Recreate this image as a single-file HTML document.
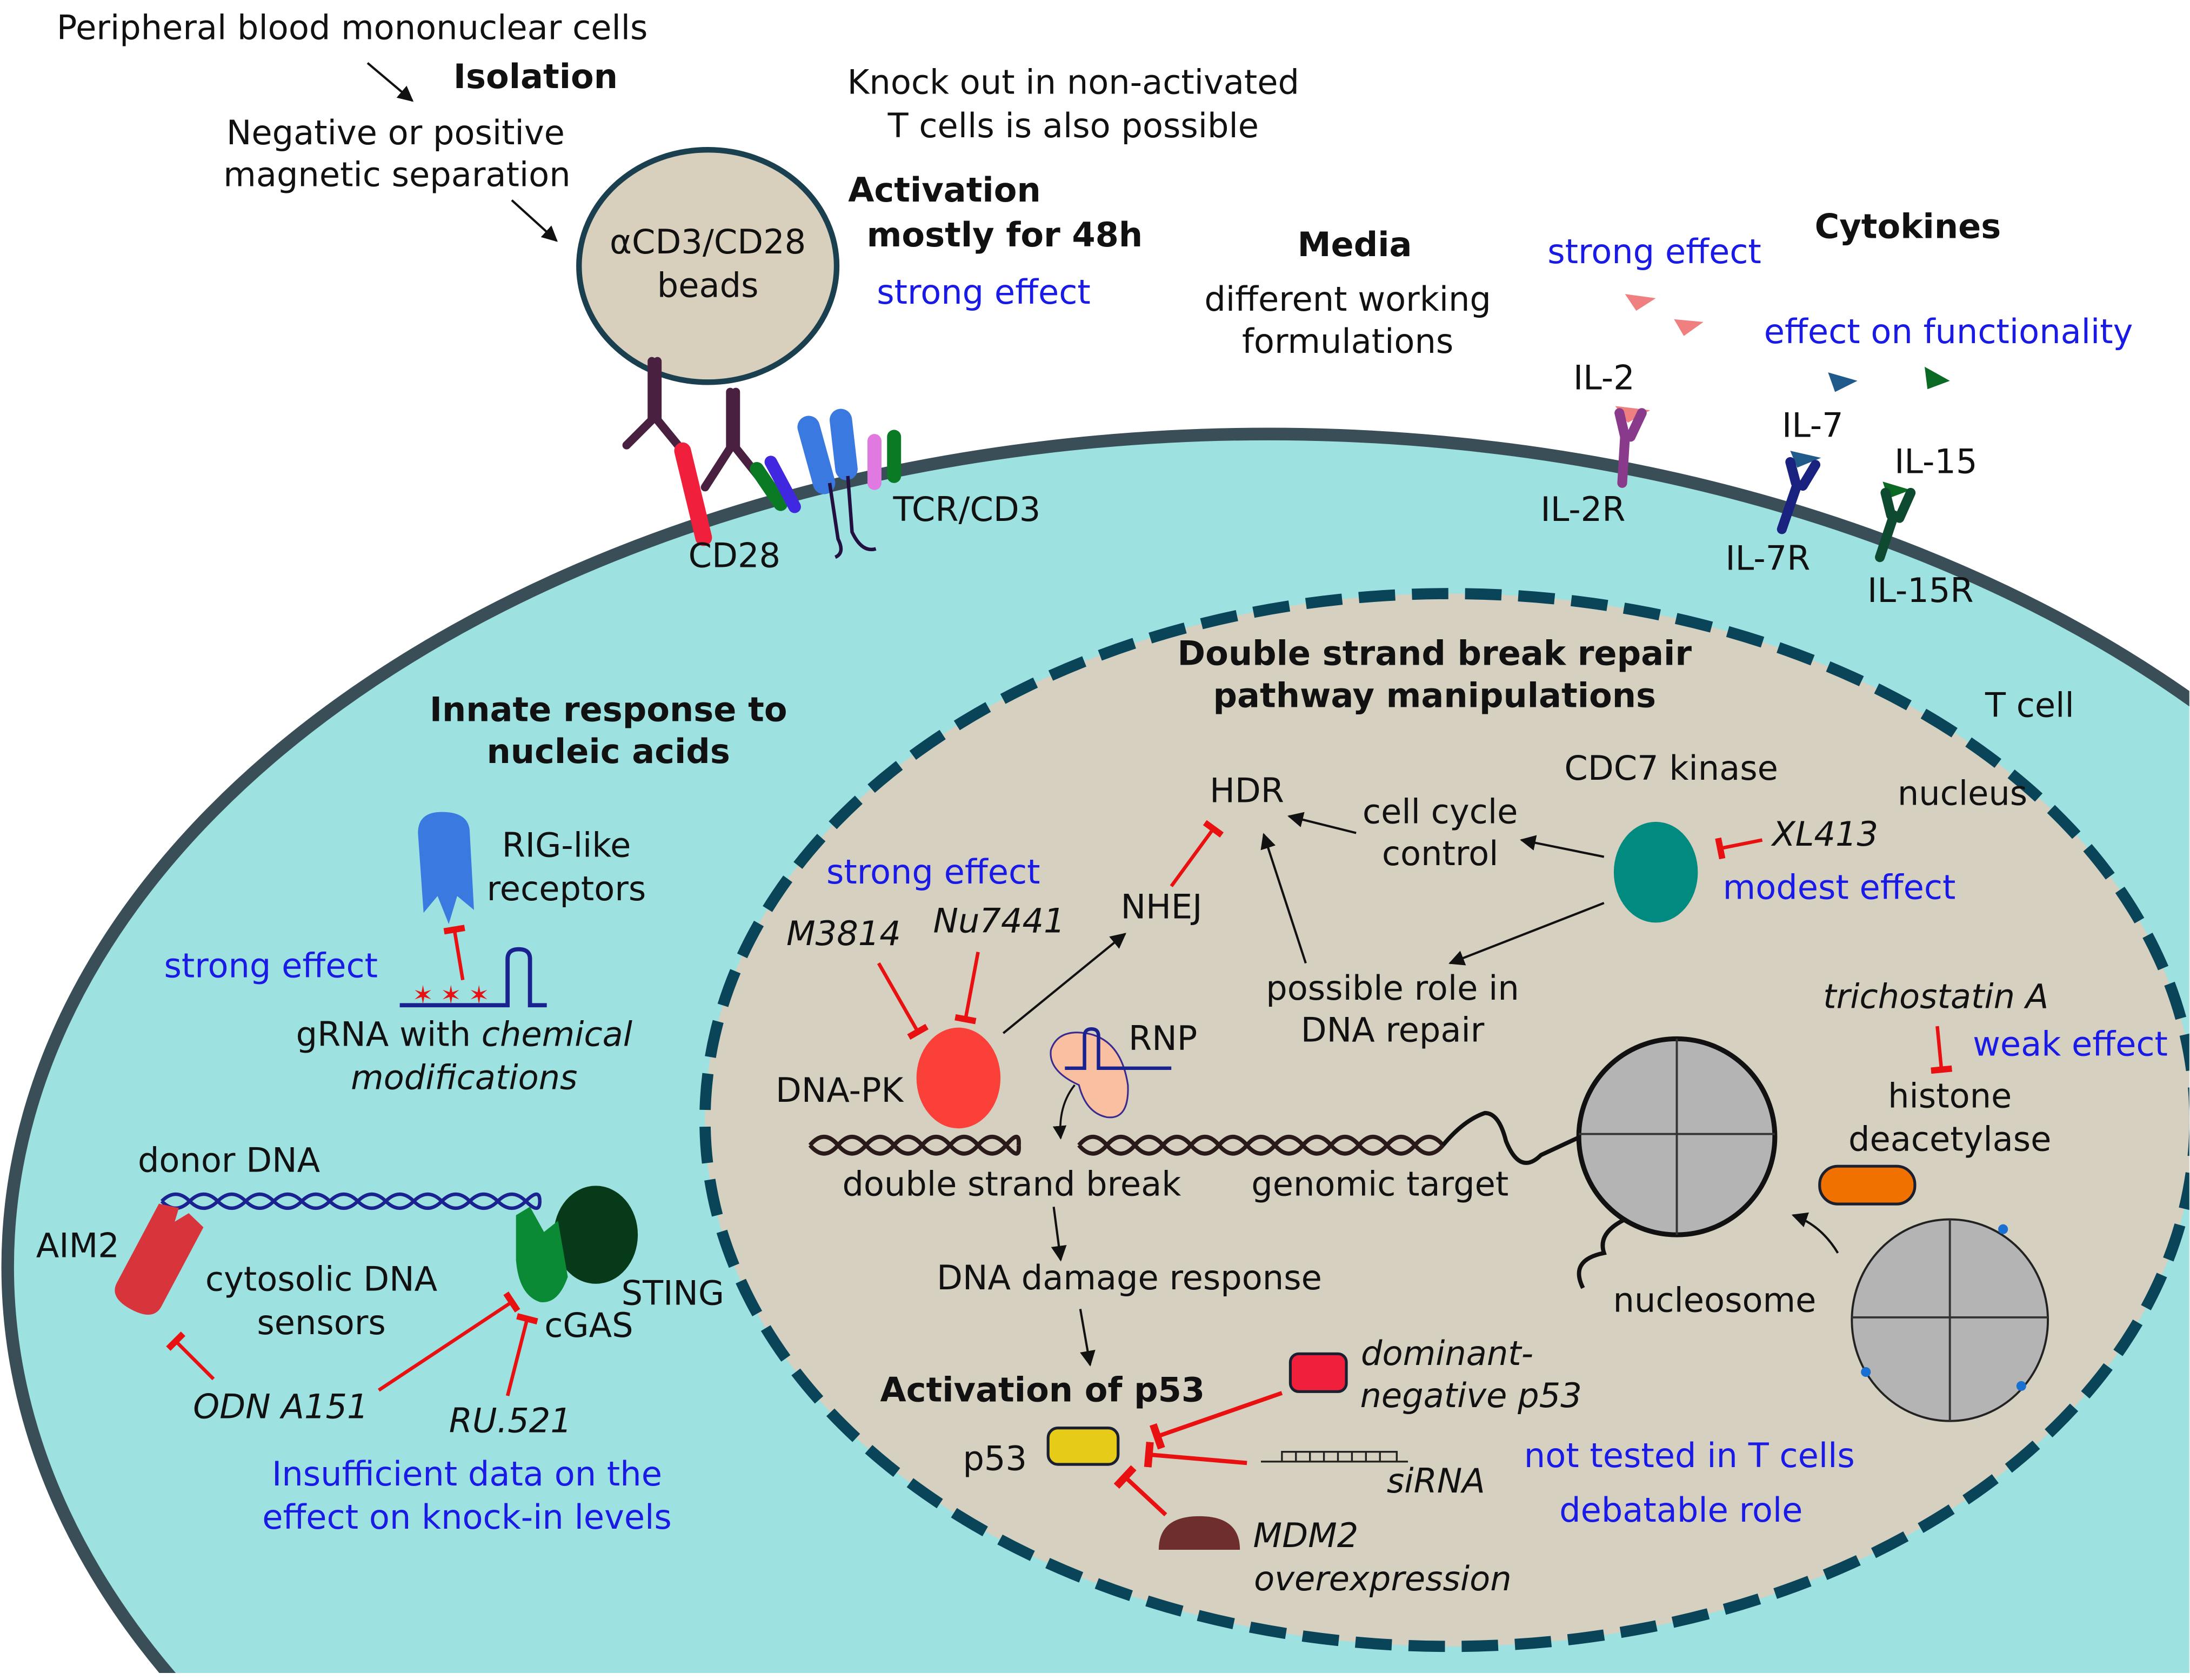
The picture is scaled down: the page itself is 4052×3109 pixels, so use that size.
<!DOCTYPE html>
<html><head><meta charset="utf-8"><style>
html,body{margin:0;padding:0;background:#fff;overflow:hidden;width:4052px;height:3109px;}
svg{display:block;overflow:hidden;}
text{font-family:"DejaVu Sans","Liberation Sans",sans-serif;font-size:24px;fill:#111;}
.b{font-weight:bold;}
.i{font-style:italic;}
.bl{fill:#1a1ae6;}
.c{text-anchor:middle;}
</style></head><body>
<svg width="4052" height="3109" viewBox="0 0 1563 1200" xmlns="http://www.w3.org/2000/svg">
<defs>
<clipPath id="cp"><rect x="0" y="0" width="1563" height="1195"/></clipPath>
<marker id="ar" viewBox="0 0 10 10" refX="9" refY="5" markerWidth="7" markerHeight="7" orient="auto"><path d="M0,0 L10,5 L0,10 z" fill="#111"/></marker>
<marker id="tb" viewBox="0 0 10 10" refX="5" refY="5" markerWidth="6" markerHeight="6" orient="auto"><path d="M5,0 L5,10" stroke="#e81010" stroke-width="3"/></marker>
</defs>
<rect width="1563" height="1200" fill="#fff"/>
<g clip-path="url(#cp)">
<ellipse cx="905" cy="905" rx="900" ry="595" fill="#9ee1e1" stroke="#3a4e58" stroke-width="9"/>
<ellipse cx="1035" cy="800" rx="532" ry="376" fill="#d5d0c0" stroke="#0a4458" stroke-width="8" stroke-dasharray="26 12"/>
</g>

<text x="40" y="28">Peripheral blood mononuclear cells</text>
<line x1="262" y1="45" x2="294" y2="72" stroke="#111" stroke-width="1.6" marker-end="url(#ar)"/>
<text x="382" y="63" class="b c">Isolation</text>
<text x="282" y="103" class="c">Negative or positive</text>
<text x="283" y="133" class="c">magnetic separation</text>
<line x1="365" y1="143" x2="397" y2="172" stroke="#111" stroke-width="1.6" marker-end="url(#ar)"/>
<ellipse cx="505" cy="190" rx="92" ry="83" fill="#d9cfbd" stroke="#1a4050" stroke-width="4"/>
<text x="505" y="181" class="c">αCD3/CD28</text>
<text x="505" y="212" class="c">beads</text>
<text x="766" y="67" class="c">Knock out in non-activated</text>
<text x="766" y="98" class="c">T cells is also possible</text>
<text x="674" y="144" class="b c">Activation</text>
<text x="717" y="176" class="b c">mostly for 48h</text>
<text x="702" y="217" class="bl c">strong effect</text>
<text x="967" y="183" class="b c">Media</text>
<text x="962" y="222" class="c">different working</text>
<text x="962" y="252" class="c">formulations</text>
<text x="1181" y="188" class="bl c">strong effect</text>
<text x="1362" y="170" class="b c">Cytokines</text>
<text x="1391" y="245" class="bl c">effect on functionality</text>

<g stroke="#4a2040" stroke-width="6" stroke-linecap="round" fill="none">
<path d="M465,258 V300 M469,258 V300 M465,300 L447,318 M469,300 L487,322"/>
<path d="M521,280 V320 M525,280 V320 M521,320 L503,348 M525,320 L545,345"/>
</g>
<path d="M487,322 L502,384" stroke="#f0203c" stroke-width="12" stroke-linecap="round"/>
<path d="M540,335 L557,360" stroke="#0a7a24" stroke-width="10" stroke-linecap="round"/>
<path d="M550,330 L567,362" stroke="#4028e0" stroke-width="9" stroke-linecap="round"/>
<path d="M577,305 L588,345" stroke="#3a7ae0" stroke-width="16" stroke-linecap="round"/>
<path d="M600,300 L604,335" stroke="#3a7ae0" stroke-width="16" stroke-linecap="round"/>
<path d="M624,315 V345" stroke="#e07ae0" stroke-width="10" stroke-linecap="round"/>
<path d="M638,312 V340" stroke="#0a7a24" stroke-width="10" stroke-linecap="round"/>
<path d="M592,345 L598,385 Q603,395 596,398 M605,340 L608,380 Q615,395 625,392" stroke="#221040" stroke-width="2.5" fill="none"/>
<text x="524" y="405" class="c">CD28</text>
<text x="690" y="372" class="c">TCR/CD3</text>

<g fill="#f08080">
<path d="M1160,210 L1182,213 L1168,222 z"/><path d="M1195,228 L1216,230 L1202,240 z"/>
<path d="M1153,290 L1178,293 L1162,302 z"/>
</g>
<g fill="#205a8a"><path d="M1305,266 L1326,272 L1310,280 z"/><path d="M1278,322 L1300,327 L1283,334 z"/></g>
<g fill="#0a6a24"><path d="M1374,262 L1392,272 L1376,278 z"/><path d="M1344,344 L1364,350 L1348,356 z"/></g>
<text x="1145" y="278" class="c">IL-2</text>
<text x="1294" y="312" class="c">IL-7</text>
<text x="1382" y="338" class="c">IL-15</text>
<path d="M1156,295 L1160,312 M1172,295 L1164,312 M1160,312 L1158,345" stroke="#8a3a8a" stroke-width="7" stroke-linecap="round" fill="none"/>
<path d="M1278,330 L1282,345 M1296,332 L1287,347 M1283,346 L1272,378" stroke="#1a2280" stroke-width="7" stroke-linecap="round" fill="none"/>
<path d="M1346,352 L1350,368 M1364,352 L1356,370 M1352,368 L1342,398" stroke="#0e4a30" stroke-width="7" stroke-linecap="round" fill="none"/>
<text x="1130" y="372" class="c">IL-2R</text>
<text x="1262" y="407" class="c">IL-7R</text>
<text x="1371" y="430" class="c">IL-15R</text>

<text x="1449" y="512" class="c">T cell</text>
<text x="1401" y="575" class="c">nucleus</text>
<text x="1024" y="475" class="b c">Double strand break repair</text>
<text x="1024" y="505" class="b c">pathway manipulations</text>

<text x="434" y="515" class="b c">Innate response to</text>
<text x="434" y="545" class="b c">nucleic acids</text>
<path d="M298,595 Q298,580 315,580 Q335,580 335,595 L338,650 L326,640 L320,660 L312,640 L302,652 z" fill="#3a7ae0"/>
<text x="404" y="612" class="c">RIG-like</text>
<text x="404" y="643" class="c">receptors</text>
<line x1="330" y1="700" x2="324" y2="664" stroke="#e81010" stroke-width="2.5" marker-end="url(#tb)"/>
<text x="193" y="698" class="bl c">strong effect</text>
<path d="M285,718 H362 V685 Q362,678 370,678 Q378,678 378,685 V718 H390" stroke="#1a2290" stroke-width="3" fill="none"/>
<text x="294" y="717" style="fill:#e81010;font-size:18px">✶</text><text x="314" y="717" style="fill:#e81010;font-size:18px">✶</text><text x="334" y="717" style="fill:#e81010;font-size:18px">✶</text>
<text x="331" y="747" class="c">gRNA with <tspan class="i">chemical</tspan></text>
<text x="331" y="778" class="c i">modifications</text>

<text x="163" y="837" class="c">donor DNA</text>
<path d="M115,858 Q125,848 135,858 T155,858 T175,858 T195,858 T215,858 T235,858 T255,858 T275,858 T295,858 T315,858 T335,858 T355,858 T375,858 T385,858" stroke="#1a2290" stroke-width="2.5" fill="none"/>
<path d="M115,858 Q125,868 135,858 T155,858 T175,858 T195,858 T215,858 T235,858 T255,858 T275,858 T295,858 T315,858 T335,858 T355,858 T375,858 T385,858" stroke="#1a2290" stroke-width="2.5" fill="none"/>
<g transform="translate(112,900) rotate(28)">
<path d="M-18,-36 L-4,-40 L-2,-30 L4,-40 L18,-36 L18,28 Q18,40 0,40 Q-18,40 -18,28 z" fill="#d8343c"/>
</g>
<ellipse cx="425" cy="882" rx="30" ry="35" fill="#073a18"/>
<path d="M368,868 L378,862 L388,880 L398,872 L405,912 Q398,932 385,930 Q370,925 368,900 z" fill="#0a8a34"/>
<text x="55" y="898" class="c">AIM2</text>
<text x="229" y="922" class="c">cytosolic DNA</text>
<text x="229" y="953" class="c">sensors</text>
<text x="480" y="932" class="c">STING</text>
<text x="420" y="955" class="c">cGAS</text>
<line x1="152" y1="985" x2="125" y2="958" stroke="#e81010" stroke-width="2.5" marker-end="url(#tb)"/>
<line x1="270" y1="993" x2="365" y2="930" stroke="#e81010" stroke-width="2.5" marker-end="url(#tb)"/>
<line x1="362" y1="997" x2="376" y2="942" stroke="#e81010" stroke-width="2.5" marker-end="url(#tb)"/>
<text x="200" y="1013" class="c i">ODN A151</text>
<text x="364" y="1023" class="c i">RU.521</text>
<text x="333" y="1061" class="bl c">Insufficient data on the</text>
<text x="333" y="1092" class="bl c">effect on knock-in levels</text>

<text x="890" y="573" class="c">HDR</text>
<text x="1028" y="588" class="c">cell cycle</text>
<text x="1028" y="618" class="c">control</text>
<text x="1193" y="557" class="c">CDC7 kinase</text>
<ellipse cx="1182" cy="623" rx="30" ry="36" fill="#008a80"/>
<text x="1303" y="604" class="c i">XL413</text>
<line x1="1258" y1="600" x2="1228" y2="606" stroke="#e81010" stroke-width="2.5" marker-end="url(#tb)"/>
<text x="1313" y="642" class="bl c">modest effect</text>
<line x1="968" y1="595" x2="920" y2="583" stroke="#111" stroke-width="1.6" marker-end="url(#ar)"/>
<line x1="1145" y1="612" x2="1086" y2="600" stroke="#111" stroke-width="1.6" marker-end="url(#ar)"/>
<line x1="1145" y1="645" x2="1035" y2="688" stroke="#111" stroke-width="1.6" marker-end="url(#ar)"/>
<line x1="932" y1="688" x2="902" y2="596" stroke="#111" stroke-width="1.6" marker-end="url(#ar)"/>
<line x1="836" y1="633" x2="866" y2="592" stroke="#e81010" stroke-width="2.5" marker-end="url(#tb)"/>
<text x="666" y="631" class="bl c">strong effect</text>
<text x="829" y="656" class="c">NHEJ</text>
<text x="602" y="675" class="c i">M3814</text>
<text x="713" y="666" class="c i">Nu7441</text>
<line x1="716" y1="738" x2="803" y2="667" stroke="#111" stroke-width="1.6" marker-end="url(#ar)"/>
<line x1="627" y1="688" x2="655" y2="737" stroke="#e81010" stroke-width="2.5" marker-end="url(#tb)"/>
<line x1="698" y1="680" x2="689" y2="728" stroke="#e81010" stroke-width="2.5" marker-end="url(#tb)"/>
<text x="994" y="714" class="c">possible role in</text>
<text x="994" y="744" class="c">DNA repair</text>
<text x="1382" y="720" class="c i">trichostatin A</text>
<line x1="1383" y1="733" x2="1386" y2="764" stroke="#e81010" stroke-width="2.5" marker-end="url(#tb)"/>
<text x="1478" y="754" class="bl c">weak effect</text>
<text x="1392" y="791" class="c">histone</text>
<text x="1392" y="822" class="c">deacetylase</text>
<rect x="1299" y="833" width="68" height="27" rx="13" fill="#f07000" stroke="#1a2030" stroke-width="2"/>
<ellipse cx="684" cy="770" rx="30" ry="36" fill="#fa4038"/>
<text x="599" y="787" class="c">DNA-PK</text>
<path d="M750,750 Q755,735 775,738 Q800,742 805,775 Q806,800 790,798 Q775,795 770,775 Q748,765 750,750 z" fill="#f8c0a0" stroke="#3a2a90" stroke-width="1.2"/>
<path d="M760,763 H774 V740 Q774,735 779,735 Q784,735 784,740 V763 H836" stroke="#1a2290" stroke-width="2.5" fill="none"/>
<text x="830" y="750" class="c">RNP</text>
<path d="M767,775 Q755,790 757,813" stroke="#111" stroke-width="1.4" fill="none" marker-end="url(#ar)"/>
<g stroke="#2a1a1a" stroke-width="3" fill="none">
<path d="M578,818 Q588,806 598,818 T618,818 T638,818 T658,818 T678,818 T698,818 T718,818 T727,818"/>
<path d="M578,818 Q588,830 598,818 T618,818 T638,818 T658,818 T678,818 T698,818 T718,818 T727,818"/>
<path d="M770,818 Q780,806 790,818 T810,818 T830,818 T850,818 T870,818 T890,818 T910,818 T930,818 T950,818 T970,818 T990,818 T1010,818 T1030,818"/>
<path d="M770,818 Q780,830 790,818 T810,818 T830,818 T850,818 T870,818 T890,818 T910,818 T930,818 T950,818 T970,818 T990,818 T1010,818 T1030,818"/>
<path d="M1030,818 Q1045,800 1060,795 Q1070,795 1075,815 Q1085,840 1100,825 L1128,812" stroke="#111"/>
<path d="M1162,870 Q1140,880 1145,895 Q1120,900 1130,920" stroke="#111"/>
</g>
<circle cx="1197" cy="812" r="70" fill="#b4b4b4" stroke="#111" stroke-width="3.5"/>
<path d="M1197,742 V882 M1127,810 H1267" stroke="#333" stroke-width="1.5"/>
<text x="722" y="854" class="c">double strand break</text>
<text x="985" y="854" class="c">genomic target</text>
<ellipse cx="1392" cy="943" rx="70" ry="72" fill="#b4b4b4" stroke="#222" stroke-width="1.5"/>
<path d="M1392,871 V1015 M1322,941 H1462" stroke="#333" stroke-width="1.5"/>
<circle cx="1430" cy="878" r="3.5" fill="#1a70d0"/><circle cx="1332" cy="980" r="3.5" fill="#1a70d0"/><circle cx="1443" cy="990" r="3.5" fill="#1a70d0"/>
<path d="M1312,895 Q1300,875 1280,868" stroke="#111" stroke-width="1.6" fill="none" marker-end="url(#ar)"/>
<text x="1224" y="937" class="c">nucleosome</text>
<line x1="752" y1="862" x2="757" y2="900" stroke="#111" stroke-width="1.6" marker-end="url(#ar)"/>
<text x="806" y="921" class="c">DNA damage response</text>
<line x1="771" y1="935" x2="778" y2="975" stroke="#111" stroke-width="1.6" marker-end="url(#ar)"/>
<text x="744" y="1001" class="b c">Activation of p53</text>
<rect x="921" y="967" width="40" height="27" rx="6" fill="#f0203c" stroke="#1a2030" stroke-width="2"/>
<text x="1033" y="975" class="c i">dominant-</text>
<text x="1050" y="1005" class="c i">negative p53</text>
<rect x="748" y="1020" width="50" height="26" rx="7" fill="#e6cc18" stroke="#1a2030" stroke-width="2"/>
<text x="710" y="1050" class="c">p53</text>
<line x1="915" y1="995" x2="826" y2="1026" stroke="#e81010" stroke-width="3" marker-end="url(#tb)"/>
<line x1="890" y1="1045" x2="820" y2="1039" stroke="#e81010" stroke-width="3" marker-end="url(#tb)"/>
<line x1="832" y1="1082" x2="803" y2="1055" stroke="#e81010" stroke-width="3" marker-end="url(#tb)"/>
<path d="M900,1044 H1005 M915,1044 V1037 H997 V1044 M925,1037 V1044 M935,1037 V1044 M945,1037 V1044 M955,1037 V1044 M965,1037 V1044 M975,1037 V1044 M985,1037 V1044" stroke="#222" stroke-width="1.3" fill="none"/>
<text x="1025" y="1066" class="c i">siRNA</text>
<text x="1206" y="1048" class="bl c">not tested in T cells</text>
<text x="1200" y="1087" class="bl c">debatable role</text>
<path d="M827,1107 Q827,1083 856,1083 Q885,1083 885,1107 z" fill="#6e2e2e"/>
<text x="932" y="1105" class="c i">MDM2</text>
<text x="987" y="1136" class="c i">overexpression</text>
</svg>
</body></html>
